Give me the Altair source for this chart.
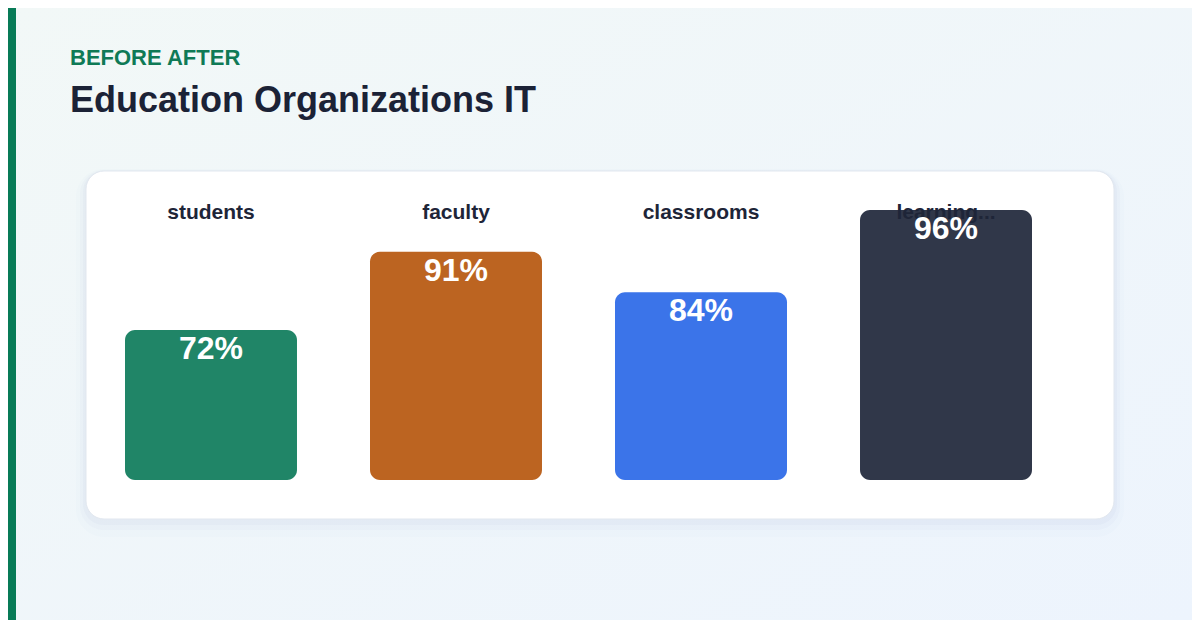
import altair as alt
import pandas as pd

# ---- data ----
categories = ["students", "faculty", "classrooms", "learning..."]
values = [72, 91, 84, 96]
bar_colors = ["#208567", "#bc6421", "#3b74e9", "#303749"]

overline = "BEFORE AFTER"
title = "Education Organizations IT"

W, H = 1184, 612
BASE = -94.5  # baseline of the (non-linear) value scale

df = pd.DataFrame({
    "category": categories,
    "value": values,
    "label": [f"{v}%" for v in values],
})
one = pd.DataFrame({"k": [0]})

FONT = "Liberation Sans"

bg = alt.Chart(one).mark_rect(
    fill=alt.Gradient(
        gradient="linear",
        stops=[alt.GradientStop(color="#f2f8f7", offset=0),
               alt.GradientStop(color="#edf4fd", offset=1)],
        x1=0, y1=0, x2=1, y2=1,
    )
).encode(x=alt.value(0), x2=alt.value(W), y=alt.value(0), y2=alt.value(H))

stripe = alt.Chart(one).mark_rect(fill="#087b57").encode(
    x=alt.value(0), x2=alt.value(8), y=alt.value(0), y2=alt.value(H)
)

shadows = []
for grow, dy, op in [(10, 8, 0.025), (6, 5, 0.04), (3, 3, 0.05)]:
    shadows.append(
        alt.Chart(one).mark_rect(fill="#8ea3c0", opacity=op, cornerRadius=18 + grow).encode(
            x=alt.value(78 - grow), x2=alt.value(1106 + grow),
            y=alt.value(163 - grow + dy), y2=alt.value(511 + grow + dy),
        )
    )

card = alt.Chart(one).mark_rect(
    fill="white", stroke="#e1e7ef", strokeWidth=1, cornerRadius=18
).encode(x=alt.value(78), x2=alt.value(1106), y=alt.value(163), y2=alt.value(511))

over_txt = alt.Chart(one).mark_text(
    text=overline, font=FONT, fontSize=22, fontWeight="bold", color="#0f7a56",
    align="left", baseline="alphabetic"
).encode(x=alt.value(62), y=alt.value(57))

title_txt = alt.Chart(one).mark_text(
    text=title, font=FONT, fontSize=36, fontWeight="bold", color="#1b2236",
    align="left", baseline="alphabetic"
).encode(x=alt.value(62), y=alt.value(104))

xscale = alt.Scale(domain=categories, range=[117, 1024], paddingInner=0.298, paddingOuter=0)
yscale = alt.Scale(type="pow", exponent=6.5, domain=[BASE, 96], range=[472, 202],
                   zero=False, nice=False)

base = alt.Chart(df)

bars = base.mark_bar(cornerRadius=10).encode(
    x=alt.X("category:N", scale=xscale, axis=None),
    y=alt.Y("value:Q", scale=yscale, axis=None),
    y2=alt.datum(BASE),
    color=alt.Color("category:N", scale=alt.Scale(domain=categories, range=bar_colors), legend=None),
)

cat_txt = base.mark_text(
    font=FONT, fontSize=21, fontWeight="bold", color="#1e2538", baseline="middle"
).encode(
    x=alt.X("category:N", scale=xscale, axis=None),
    y=alt.value(205),
    text="category:N",
)

val_txt = base.mark_text(
    font=FONT, fontSize=32, fontWeight="bold", color="white", baseline="middle", dy=19
).encode(
    x=alt.X("category:N", scale=xscale, axis=None),
    y=alt.Y("value:Q", scale=yscale, axis=None),
    text="label:N",
)

chart = alt.layer(
    bg, stripe, *shadows, card, over_txt, title_txt, bars, cat_txt, val_txt
).properties(
    width=W, height=H, autosize=alt.AutoSizeParams(type="none"), padding=0,
    background="#f1f7f8",
).configure_view(stroke=None)

chart.save("out.html", embed_options={"renderer": "svg", "actions": False})
